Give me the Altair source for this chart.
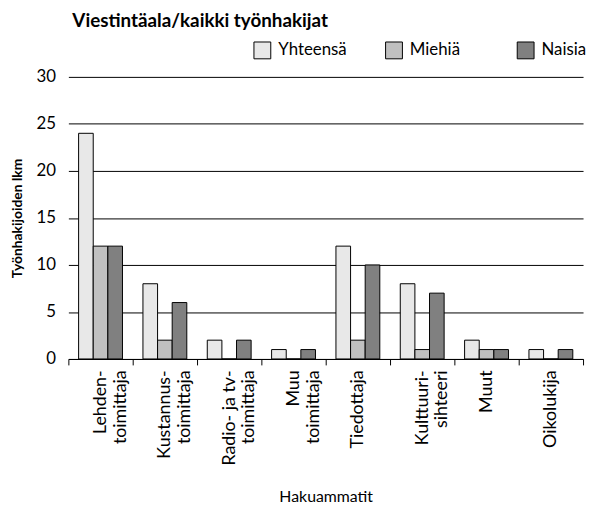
import altair as alt
import pandas as pd

categories = [
    "Lehden-\ntoimittaja",
    "Kustannus-\ntoimittaja",
    "Radio- ja tv-\ntoimittaja",
    "Muu\ntoimittaja",
    "Tiedottaja",
    "Kulttuuri-\nsihteeri",
    "Muut",
    "Oikolukija",
]
series = ["Yhteensä", "Miehiä", "Naisia"]
yhteensa = [24, 8, 2, 1, 12, 8, 2, 1]
miehia = [12, 2, 0, 0, 2, 1, 1, 0]
naisia = [12, 6, 2, 1, 10, 7, 1, 1]
colors = ["#e8e8e8", "#c0c0c0", "#808080"]

rows = []
for i, c in enumerate(categories):
    for s, vals in zip(series, [yhteensa, miehia, naisia]):
        rows.append({"Hakuammatti": c, "Sarja": s, "Arvo": vals[i]})
df = pd.DataFrame(rows)

FONT = "Lato"

chart = (
    alt.Chart(df)
    .mark_bar(stroke="black", strokeWidth=1)
    .encode(
        x=alt.X(
            "Hakuammatti:N",
            sort=categories,
            title="Hakuammatit",
            scale=alt.Scale(paddingInner=0, paddingOuter=0),
            axis=alt.Axis(
                labelAngle=-90,
                labelExpr="split(datum.label, '\\n')",
                labelLineHeight=20,
                tickBand="extent",
                tickSize=6,
                tickColor="black",
                domainColor="black",
                labelPadding=5,
                labelFontSize=18,
                labelColor="black",
                titleFontSize=16,
                titleFontWeight="normal",
                titleColor="black",
                titlePadding=24,
            ),
        ),
        xOffset=alt.XOffset(
            "Sarja:N",
            sort=series,
            scale=alt.Scale(paddingInner=0, paddingOuter=0.7),
        ),
        y=alt.Y(
            "Arvo:Q",
            title="Työnhakijoiden lkm",
            scale=alt.Scale(domain=[0, 30]),
            axis=alt.Axis(
                values=[0, 5, 10, 15, 20, 25, 30],
                ticks=False,
                domain=False,
                grid=True,
                gridColor="black",
                gridOpacity=1,
                gridWidth=1,
                labelPadding=13,
                labelFontSize=17,
                labelColor="black",
                titleFontSize=14,
                titleFontWeight="bold",
                titleColor="black",
                titlePadding=12,
            ),
        ),
        fill=alt.Fill(
            "Sarja:N",
            sort=series,
            scale=alt.Scale(domain=series, range=colors),
            legend=alt.Legend(
                title=None,
                orient="none",
                direction="horizontal",
                legendX=187,
                legendY=-36,
                symbolType="square",
                symbolSize=289,
                symbolStrokeColor="black",
                symbolStrokeWidth=1,
                labelFontSize=17,
                labelColor="black",
                columnPadding=36,
                labelOffset=7,
                gridAlign="all",
            ),
        ),
    )
    .properties(
        width=520,
        height=285,
        padding={"left": 2, "top": 2, "right": 0, "bottom": 2},
        title=alt.TitleParams(
            "Viestintäala/kaikki työnhakijat",
            anchor="start",
            frame="group",
            dx=4,
            fontSize=19,
            fontWeight="bold",
            font=FONT,
            color="black",
            offset=10,
        ),
    )
    .configure(font=FONT)
    .configure_view(stroke=None)
)

chart.save("out.html", embed_options={"renderer": "svg", "actions": False})
